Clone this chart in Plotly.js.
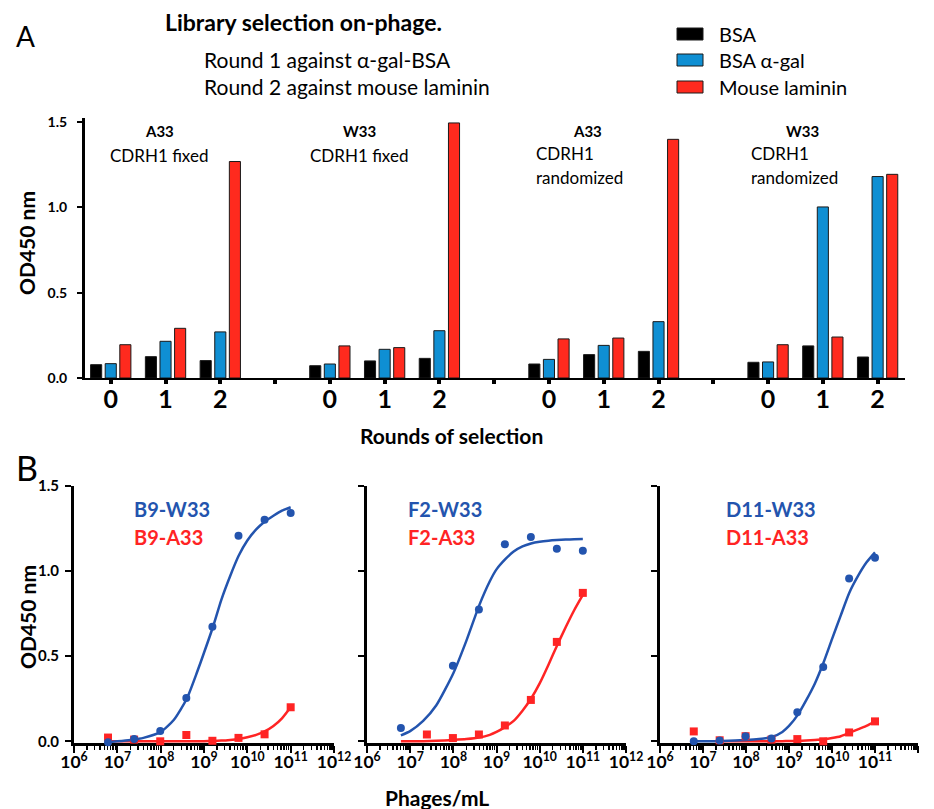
<!DOCTYPE html>
<html><head><meta charset="utf-8">
<script src="https://cdn.plot.ly/plotly-3.0.1.min.js"></script>
<style>html,body{margin:0;padding:0;background:#fff}</style>
</head><body><div id="chart" style="width:934px;height:809px"></div>
<script>
// ---------- Panel A : library selection on-phage ----------
const rounds = ['0', '1', '2'];
const libraries = ['A33 CDRH1 fixed', 'W33 CDRH1 fixed', 'A33 CDRH1 randomized', 'W33 CDRH1 randomized'];
const seriesNames = ['BSA', 'BSA α-gal', 'Mouse laminin'];
// values listed library by library, rounds 0,1,2
const bsa      = [0.078, 0.125, 0.102,  0.072, 0.100, 0.115,  0.082, 0.137, 0.156,  0.092, 0.188, 0.123];
const bsaAgal  = [0.084, 0.215, 0.270,  0.082, 0.168, 0.277,  0.109, 0.191, 0.330,  0.094, 1.002, 1.180];
const laminin  = [0.195, 0.291, 1.268,  0.188, 0.178, 1.494,  0.229, 0.234, 1.398,  0.195, 0.240, 1.193];

// ---------- Panel B : phage titration ELISA ----------
const phages = [6.1e6, 2.44e7, 9.77e7, 3.91e8, 1.5625e9, 6.25e9, 2.5e10, 1e11];
const b9W33  = [-0.006, 0.013, 0.060, 0.255, 0.673, 1.208, 1.302, 1.341];
const b9A33  = [0.022, 0.010, 0.000, 0.037, 0.003, 0.020, 0.041, 0.200];
const f2W33  = [0.078, null, 0.444, 0.774, 1.158, 1.200, 1.132, 1.119];
const f2A33  = [null, 0.040, 0.019, 0.040, 0.093, 0.243, 0.584, 0.872];
const d11W33 = [0.000, 0.004, 0.030, 0.016, 0.170, 0.436, 0.957, 1.078];
const d11A33 = [0.058, 0.006, 0.030, 0.010, 0.013, 0.000, 0.052, 0.117];

// fitted curves
const fitPhages = [6.1e6, 1e7, 2e7, 4e7, 1e8, 2e8, 4e8, 7e8, 1e9, 1.6e9, 2.5e9, 4e9, 6.3e9, 1e10, 1.6e10, 2.5e10, 4e10, 6.3e10, 1e11];
const b9W33Fit  = [-0.005, 0.000, 0.008, 0.020, 0.055, 0.125, 0.250, 0.410, 0.520, 0.670, 0.830, 0.970, 1.090, 1.180, 1.245, 1.290, 1.325, 1.355, 1.375];
const b9A33Fit  = [0.000, 0.000, 0.000, 0.000, 0.000, 0.000, 0.000, 0.000, 0.001, 0.002, 0.004, 0.008, 0.014, 0.024, 0.038, 0.058, 0.090, 0.135, 0.200];
const f2W33Fit  = [0.035, 0.060, 0.120, 0.210, 0.400, 0.590, 0.800, 0.940, 1.010, 1.070, 1.115, 1.145, 1.162, 1.172, 1.178, 1.182, 1.185, 1.187, 1.188];
const f2A33Fit  = [0.000, 0.000, 0.001, 0.003, 0.008, 0.013, 0.022, 0.038, 0.055, 0.085, 0.120, 0.180, 0.250, 0.340, 0.450, 0.560, 0.670, 0.770, 0.860];
const d11W33Fit = [0.000, 0.000, 0.001, 0.003, 0.007, 0.013, 0.025, 0.055, 0.090, 0.155, 0.240, 0.340, 0.460, 0.600, 0.740, 0.870, 0.970, 1.050, 1.110];
const d11A33Fit = [null, null, 0.000, 0.000, 0.000, 0.000, 0.001, 0.001, 0.002, 0.003, 0.005, 0.008, 0.012, 0.019, 0.030, 0.050, 0.070, 0.090, 0.117];

// ---------- styling ----------
const FONT = 'Lato, "Open Sans", sans-serif';
const W = 934, H = 809;
const px = x => x / W;
const py = y => 1 - y / H;
const BLACK = '#000000', CYAN = '#0f8fd3', RED = '#ff2a1e';
const BLUE = '#2354ae', RED2 = '#ff2424';
const barColors = [BLACK, CYAN, RED];

// bar x positions: one slot per round, one empty slot between libraries
const barX = [];
const tickVals = [], tickText = [];
libraries.forEach((lib, g) => {
  rounds.forEach((r, i) => { barX.push(g * 4 + i); tickVals.push(g * 4 + i); tickText.push(r); });
  if (g < libraries.length - 1) { tickVals.push(g * 4 + 3); tickText.push(' '); }
});

const barLine = {color: '#1a1a1a', width: 1};
const traces = [bsa, bsaAgal, laminin].map((vals, k) => ({
  type: 'bar', name: seriesNames[k], x: barX, y: vals,
  marker: {color: barColors[k], line: barLine}, xaxis: 'x', yaxis: 'y', showlegend: false
}));

function addPanel(ax, fitW, fitA, ptsW, ptsA) {
  const xa = 'x' + ax, ya = 'y' + ax;
  traces.push({type: 'scatter', mode: 'lines', x: fitPhages, y: fitA, line: {color: RED2, width: 2.5, shape: 'spline', smoothing: 0.6}, showlegend: false, xaxis: xa, yaxis: ya, hoverinfo: 'skip'});
  traces.push({type: 'scatter', mode: 'lines', x: fitPhages, y: fitW, line: {color: BLUE, width: 2.5, shape: 'spline', smoothing: 0.6}, showlegend: false, xaxis: xa, yaxis: ya, hoverinfo: 'skip'});
  traces.push({type: 'scatter', mode: 'markers', x: phages, y: ptsA, marker: {symbol: 'square', size: 8, color: RED2}, cliponaxis: false, showlegend: false, xaxis: xa, yaxis: ya});
  traces.push({type: 'scatter', mode: 'markers', x: phages, y: ptsW, marker: {symbol: 'circle', size: 8, color: BLUE}, cliponaxis: false, showlegend: false, xaxis: xa, yaxis: ya});
}
addPanel(2, b9W33Fit, b9A33Fit, b9W33, b9A33);
addPanel(3, f2W33Fit, f2A33Fit, f2W33, f2A33);
addPanel(4, d11W33Fit, d11A33Fit, d11W33, d11A33);

const yDomB = [py(743), py(486)];
function logAxis(domain) {
  return {
    type: 'log', domain: domain, range: [6, 12], dtick: 1, exponentformat: 'power',
    showline: true, linecolor: BLACK, linewidth: 3, showgrid: false, zeroline: false,
    ticks: 'outside', ticklen: 7, tickwidth: 2, tickcolor: BLACK, ticklabelstandoff: -5,
    minor: {ticks: 'outside', ticklen: 4, tickwidth: 1.5, tickcolor: BLACK, dtick: 'D1', showgrid: false},
    tickfont: {family: FONT, size: 14, color: BLACK, weight: 700},
    layer: 'below traces', fixedrange: true
  };
}
function odAxis(anchor, labels) {
  return {
    domain: yDomB, range: [-0.01, 1.5], anchor: anchor,
    tickvals: [0, 0.5, 1.0, 1.5], tickformat: '.1f', showticklabels: labels,
    showline: true, linecolor: BLACK, linewidth: 3, showgrid: false, zeroline: false,
    ticks: 'outside', ticklen: 6, tickwidth: 2, tickcolor: BLACK, ticklabelstandoff: 3,
    tickfont: {family: FONT, size: 15, color: BLACK, weight: 700},
    layer: 'below traces', fixedrange: true
  };
}

const ann = (text, x, y, opts) => Object.assign({text: text, x: px(x), y: py(y), xref: 'paper', yref: 'paper', showarrow: false,
  xanchor: 'center', yanchor: 'middle', font: {family: FONT, size: 17, color: BLACK}}, opts || {});
const bold = (size, color) => ({family: FONT, size: size, color: color || BLACK, weight: 700});

const annotations = [
  ann('Library selection on-phage.', 303, 22, {font: bold(23)}),
  ann('A', 25, 36, {font: {family: FONT, size: 28, color: BLACK}}),
  ann('B', 27, 467, {font: {family: FONT, size: 34, color: BLACK}}),
  ann('Round 1 against α-gal-BSA', 202, 60, {xanchor: 'left', font: {family: FONT, size: 21, color: BLACK}}),
  ann('Round 2 against mouse laminin', 202, 86, {xanchor: 'left', font: {family: FONT, size: 21, color: BLACK}}),
  ann('A33', 159, 131, {font: bold(15)}),
  ann('CDRH1 fixed', 159, 155),
  ann('W33', 359, 131, {font: bold(15)}),
  ann('CDRH1 fixed', 359, 155),
  ann('A33', 587, 131, {font: bold(15)}),
  ann('CDRH1', 534, 154, {xanchor: 'left'}),
  ann('randomized', 534, 177, {xanchor: 'left'}),
  ann('W33', 802, 131, {font: bold(15)}),
  ann('CDRH1', 749, 154, {xanchor: 'left'}),
  ann('randomized', 749, 177, {xanchor: 'left'}),
  ann('OD450 nm', 26, 243, {textangle: -90, font: bold(21)}),
  ann('Rounds of selection', 451, 435, {font: bold(21)}),
  ann('OD450 nm', 27, 617, {textangle: -90, font: bold(21)}),
  ann('Phages/mL', 437, 797, {font: bold(21)}),
  ann('B9-W33', 132, 509, {xanchor: 'left', font: bold(20, BLUE)}),
  ann('B9-A33', 132, 537, {xanchor: 'left', font: bold(20, RED2)}),
  ann('F2-W33', 406, 509, {xanchor: 'left', font: bold(20, BLUE)}),
  ann('F2-A33', 406, 537, {xanchor: 'left', font: bold(20, RED2)}),
  ann('D11-W33', 724, 509, {xanchor: 'left', font: bold(20, BLUE)}),
  ann('D11-A33', 724, 537, {xanchor: 'left', font: bold(20, RED2)})
];

// legend: swatch + label per series
const legendY = [34, 60, 87];
const shapes = [];
seriesNames.forEach((name, k) => {
  shapes.push({type: 'rect', xref: 'paper', yref: 'paper', x0: px(677), x1: px(703), y0: py(legendY[k] + 6), y1: py(legendY[k] - 6),
               fillcolor: barColors[k], line: {color: '#1a1a1a', width: 1}});
  annotations.push(ann(name, 717, legendY[k], {xanchor: 'left', font: {family: FONT, size: 20, color: BLACK}}));
});

const layout = {
  width: W, height: H,
  margin: {l: 0, r: 0, t: 0, b: 0},
  paper_bgcolor: '#ffffff', plot_bgcolor: 'rgba(0,0,0,0)',
  font: {family: FONT, color: BLACK},
  barmode: 'group', bargap: 0.2, bargroupgap: 0.24,
  showlegend: false,
  xaxis: {
    domain: [px(85), px(905)], range: [-0.47, 14.5], anchor: 'y',
    tickvals: tickVals, ticktext: tickText,
    showline: true, linecolor: BLACK, linewidth: 2, showgrid: false, zeroline: false,
    ticks: 'outside', ticklen: 4, tickwidth: 4, tickcolor: BLACK, ticklabelstandoff: -6,
    tickfont: {family: FONT, size: 25, color: BLACK, weight: 700}, fixedrange: true
  },
  yaxis: {
    domain: [py(378), py(118)], range: [0, 1.523], anchor: 'x',
    tickvals: [0, 0.5, 1.0, 1.5], tickformat: '.1f',
    showline: true, linecolor: BLACK, linewidth: 3, showgrid: false, zeroline: false,
    ticks: 'outside', ticklen: 5, tickwidth: 2, tickcolor: BLACK, ticklabelstandoff: 7,
    tickfont: {family: FONT, size: 14, color: BLACK, weight: 700}, fixedrange: true
  },
  xaxis2: Object.assign(logAxis([px(74), px(334)]), {anchor: 'y2'}),
  yaxis2: odAxis('x2', true),
  xaxis3: Object.assign(logAxis([px(367), px(626)]), {anchor: 'y3'}),
  yaxis3: odAxis('x3', false),
  xaxis4: Object.assign(logAxis([px(660), px(918)]), {anchor: 'y4'}),
  yaxis4: odAxis('x4', false),
  shapes: shapes,
  annotations: annotations
};

Plotly.newPlot('chart', traces, layout, {displayModeBar: false, staticPlot: true});
</script>
</body></html>
